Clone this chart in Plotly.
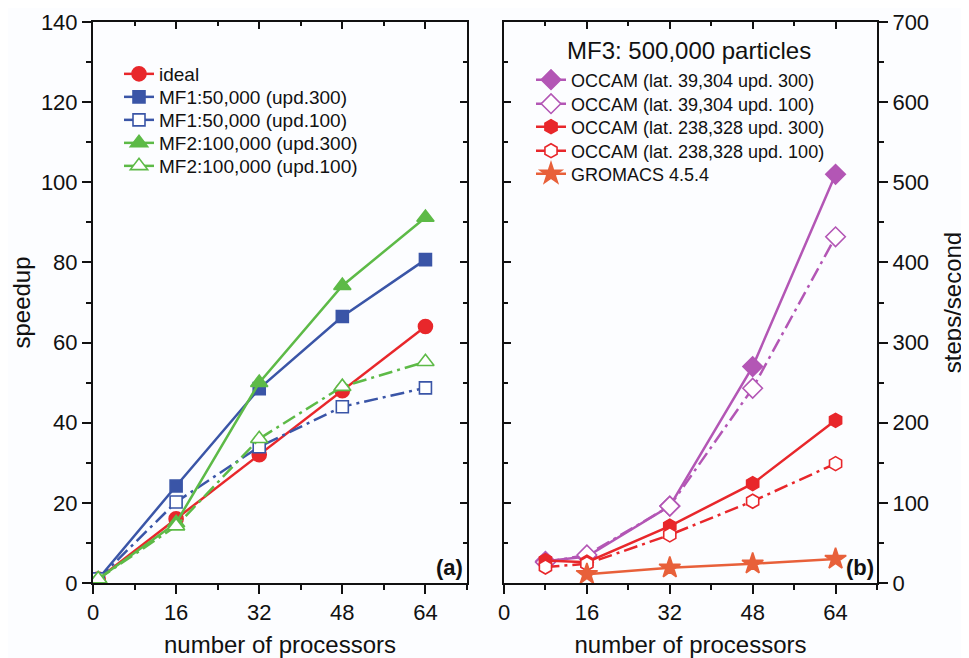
import plotly.graph_objects as go

# ---------------- data ----------------
procs_a = [1, 16, 32, 48, 64]
ideal = [1, 16, 32, 48, 64]
mf1_upd300 = [1, 24.2, 48.5, 66.5, 80.7]
mf1_upd100 = [1, 20.2, 34, 44, 48.7]
mf2_upd300 = [1, 15, 50, 74.2, 91.2]
mf2_upd100 = [1, 14.2, 36, 49, 55.2]

procs_b = [8, 16, 32, 48, 64]
occ39_upd300 = [27, 33, 96, 270, 510]
occ39_upd100 = [26, 35, 96, 243, 432]
occ238_upd300 = [28, 26, 71, 124, 203]
occ238_upd100 = [20, 24, 60, 102, 149]
procs_gromacs = [16, 32, 48, 64]
gromacs = [11, 19, 24, 30]

x_ticks = [0, 16, 32, 48, 64]

# ---------------- styles ----------------
RED = "#e8272b"
BLUE = "#3a55a7"
GREEN = "#5dba47"
PURPLE = "#b356b5"
ORANGE = "#e8603a"
BG = "#fcfdff"
INK = "#111111"
FONT = "Liberation Sans, Arial, sans-serif"
DASHDOT = "14px,5px,3px,5px"

# page offset (body margin) and plot-area frame in screen pixels
OFF = 8
PL, PR, PT, PB = 93, 877, 22, 583
W, H = 969 - OFF, 658 - OFF


def px(X):
    return (X - PL) / (PR - PL)


def py(Y):
    return (PB - Y) / (PB - PT)


fig = go.Figure()
legend_cfg = {}


def add(x, y, name, color, symbol, filled, dash, size, xa, ya, lx, ly, fs):
    lname = "legend" if not legend_cfg else "legend%d" % (len(legend_cfg) + 1)
    legend_cfg[lname] = dict(x=px(lx), y=py(ly), xanchor="left", yanchor="middle",
                             bgcolor="rgba(0,0,0,0)",
                             font=dict(family=FONT, size=fs, color=INK),
                             borderwidth=0)
    mk = dict(symbol=symbol, size=size, color=color if filled else "white",
              line=dict(color=color, width=1.6))
    # legend proxy (solid line sample, as in the original legend)
    fig.add_trace(go.Scatter(
        x=[None], y=[None], name=name, mode="lines+markers",
        line=dict(color=color, width=2.5), marker=mk,
        xaxis=xa, yaxis=ya, legend=lname, hoverinfo="skip",
    ))
    fig.add_trace(go.Scatter(
        x=x, y=y, name=name, mode="lines+markers", showlegend=False,
        line=dict(color=color, width=2.5, dash=dash), marker=mk,
        xaxis=xa, yaxis=ya,
    ))


LX_A, LX_B = 119, 531
# left panel
add(procs_a, ideal, "ideal", RED, "circle", True, "solid", 14, "x", "y", LX_A, 74, 19)
add(procs_a, mf1_upd300, "MF1:50,000 (upd.300)", BLUE, "square", True, "solid", 12, "x", "y", LX_A, 97, 19)
add(procs_a, mf1_upd100, "MF1:50,000 (upd.100)", BLUE, "square", False, DASHDOT, 12, "x", "y", LX_A, 120, 19)
add(procs_a, mf2_upd300, "MF2:100,000 (upd.300)", GREEN, "triangle-up", True, "solid", 15, "x", "y", LX_A, 143, 19)
add(procs_a, mf2_upd100, "MF2:100,000 (upd.100)", GREEN, "triangle-up", False, DASHDOT, 15, "x", "y", LX_A, 166, 19)

# right panel
add(procs_b, occ39_upd300, "OCCAM (lat. 39,304 upd. 300)", PURPLE, "diamond", True, "solid", 15, "x2", "y2", LX_B, 80, 18)
add(procs_b, occ39_upd100, "OCCAM (lat. 39,304 upd. 100)", PURPLE, "diamond", False, DASHDOT, 15, "x2", "y2", LX_B, 104, 18)
add(procs_b, occ238_upd300, "OCCAM (lat. 238,328 upd. 300)", RED, "hexagon", True, "solid", 14, "x2", "y2", LX_B, 127, 18)
add(procs_b, occ238_upd100, "OCCAM (lat. 238,328 upd. 100)", RED, "hexagon", False, DASHDOT, 14, "x2", "y2", LX_B, 151, 18)
add(procs_gromacs, gromacs, "GROMACS 4.5.4", ORANGE, "star", True, "solid", 16, "x2", "y2", LX_B, 174, 18)

# invisible traces so that the mirror (inside-tick) frame axes are drawn
for xa, ya in [("x3", "y"), ("x", "y3"), ("x4", "y2"), ("x2", "y4")]:
    fig.add_trace(go.Scatter(x=[None], y=[None], xaxis=xa, yaxis=ya,
                             showlegend=False, hoverinfo="skip"))

XD1 = [0, px(467)]
XD2 = [px(504), 1]
YD = [0, 1]

tickfont = dict(family=FONT, size=22, color=INK)
titlefont = dict(family=FONT, size=24, color=INK)


def main_x(domain, anchor):
    return dict(domain=domain, anchor=anchor, range=[0, 72], tickvals=x_ticks,
                ticks="outside", ticklen=9, tickwidth=2, tickcolor=INK,
                showline=True, linewidth=2, linecolor=INK, showgrid=False,
                zeroline=False, tickfont=tickfont,
                minor=dict(dtick=8, ticks="outside", ticklen=5, tickwidth=2,
                           tickcolor=INK, showgrid=False),
                title=dict(text="number of processors", font=titlefont, standoff=12))


def mirror_x(over, anchor):
    return dict(overlaying=over, side="top", anchor=anchor, range=[0, 72],
                tickvals=x_ticks, ticks="inside", ticklen=7, tickwidth=2,
                tickcolor=INK, showline=True, linewidth=2, linecolor=INK,
                showticklabels=False, showgrid=False, zeroline=False,
                minor=dict(dtick=8, ticks="inside", ticklen=4, tickwidth=2,
                           tickcolor=INK, showgrid=False))


def mirror_y(over, anchor, side, rng, dt, mdt):
    return dict(overlaying=over, side=side, anchor=anchor, range=rng, dtick=dt,
                ticks="inside", ticklen=7, tickwidth=2, tickcolor=INK,
                showline=True, linewidth=2, linecolor=INK,
                showticklabels=False, showgrid=False, zeroline=False,
                minor=dict(dtick=mdt, ticks="inside", ticklen=4, tickwidth=2,
                           tickcolor=INK, showgrid=False))


fig.update_layout(
    width=W, height=H,
    paper_bgcolor=BG, plot_bgcolor=BG,
    margin=dict(l=PL - OFF, r=W - (PR - OFF), t=PT - OFF, b=H - (PB - OFF),
                autoexpand=False),
    font=dict(family=FONT, color=INK),
    xaxis=main_x(XD1, "y"),
    yaxis=dict(domain=YD, anchor="x", range=[0, 140], dtick=20, ticks="outside",
               ticklen=9, tickwidth=2, tickcolor=INK, showline=True, linewidth=2,
               linecolor=INK, showgrid=False, zeroline=False, tickfont=tickfont,
               minor=dict(dtick=10, ticks="outside", ticklen=5, tickwidth=2,
                          tickcolor=INK, showgrid=False),
               title=dict(text="speedup", font=titlefont, standoff=10)),
    xaxis3=mirror_x("x", "y"),
    yaxis3=mirror_y("y", "x", "right", [0, 140], 20, 10),
    xaxis2=main_x(XD2, "y2"),
    yaxis2=dict(domain=YD, anchor="x2", side="right", range=[0, 700], dtick=100,
                ticks="outside", ticklen=9, tickwidth=2, tickcolor=INK,
                showline=True, linewidth=2, linecolor=INK, showgrid=False,
                zeroline=False, tickfont=tickfont,
                minor=dict(dtick=50, ticks="outside", ticklen=5, tickwidth=2,
                           tickcolor=INK, showgrid=False),
                title=dict(text="steps/second", font=titlefont, standoff=16)),
    xaxis4=mirror_x("x2", "y2"),
    yaxis4=mirror_y("y2", "x2", "left", [0, 700], 100, 50),
    showlegend=True,
    **legend_cfg,
)

fig.add_annotation(text="MF3: 500,000 particles", x=px(689), y=py(50),
                   xref="paper", yref="paper", showarrow=False,
                   font=dict(family=FONT, size=24, color=INK),
                   xanchor="center", yanchor="middle")
fig.add_annotation(text="<b>(a)</b>", x=px(465), y=py(567),
                   xref="paper", yref="paper", showarrow=False,
                   font=dict(family=FONT, size=22, color=INK),
                   xanchor="right", yanchor="middle")
fig.add_annotation(text="<b>(b)</b>", x=px(876), y=py(567),
                   xref="paper", yref="paper", showarrow=False,
                   font=dict(family=FONT, size=22, color=INK),
                   xanchor="right", yanchor="middle")

fig.write_html("out.html")
